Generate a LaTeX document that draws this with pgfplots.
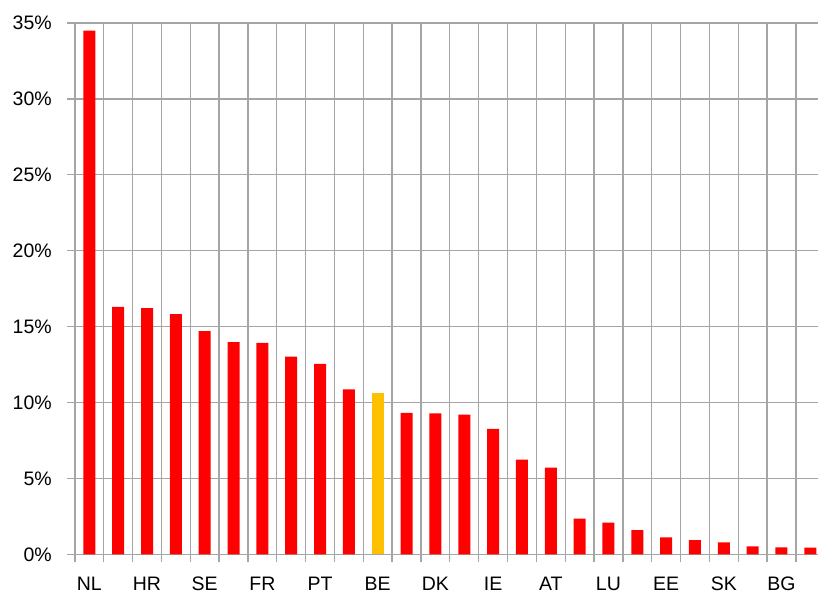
\documentclass[border=0pt]{standalone}
\usepackage{pgfplots}
\pgfplotsset{compat=1.18}
\usepackage{fontspec}
\setmainfont{Liberation Sans}
\definecolor{gridc}{RGB}{165,165,165}
\definecolor{barred}{RGB}{255,0,0}
\definecolor{baryel}{RGB}{255,192,0}
\pgfplotstableread{
x v
0 34.5
1 16.3
2 16.22
3 15.82
4 14.7
5 13.98
6 13.93
7 13.03
8 12.55
9 10.86
11 9.32
12 9.29
13 9.2
14 8.27
15 6.24
16 5.71
17 2.35
18 2.09
19 1.6
20 1.12
21 0.94
22 0.79
23 0.53
24 0.46
25 0.44
}\datared
\pgfplotstableread{
x v
10 10.61
}\datayel
\begin{document}
\begin{tikzpicture}[x=1pt,y=1pt]
\begin{axis}[
  at={(0,0)}, anchor=south west,
  scale only axis,
  width=743.1pt, height=531.3pt,
  xmin=-0.5, xmax=25.266,
  ymin=0, ymax=35,
  axis x line=bottom, axis y line=left,
  axis line style={draw=none, -},
  clip=false,
  tick align=outside,
  major tick length=7.8pt,
  tick style={draw=gridc, line width=1.3pt},
  xtick={-0.5,0.5,...,25.0},
  xticklabels={},
  ytick={0,5,...,35},
  yticklabels={},
  xmajorgrids, ymajorgrids,
  major grid style={draw=gridc, line width=1.3pt},
  extra x ticks={0,2,...,24},
  extra x tick labels={NL,HR,SE,FR,PT,BE,DK,IE,AT,LU,EE,SK,BG},
  extra x tick style={grid=none, major tick length=0pt, tick style={draw=none},
    xticklabel style={anchor=north, inner sep=0pt, font=\fontsize{19.5}{19.5}\selectfont, yshift=-22.4pt}},
  extra y ticks={0,5,...,35},
  extra y tick labels={0\%,5\%,10\%,15\%,20\%,25\%,30\%,35\%},
  extra y tick style={grid=none, major tick length=0pt, tick style={draw=none},
    yticklabel style={anchor=east, inner sep=0pt, font=\fontsize{19.5}{19.5}\selectfont, xshift=-23pt}},
  ybar, bar width=12pt, bar shift=0pt,
]
\addplot[fill=barred, draw=none] table[x=x,y=v] {\datared};
\addplot[fill=baryel, draw=none] table[x=x,y=v] {\datayel};
\end{axis}
\pgfresetboundingbox
\path (-74.9pt,-38.7pt) rectangle (743.1pt,554.3pt);
\end{tikzpicture}
\end{document}
